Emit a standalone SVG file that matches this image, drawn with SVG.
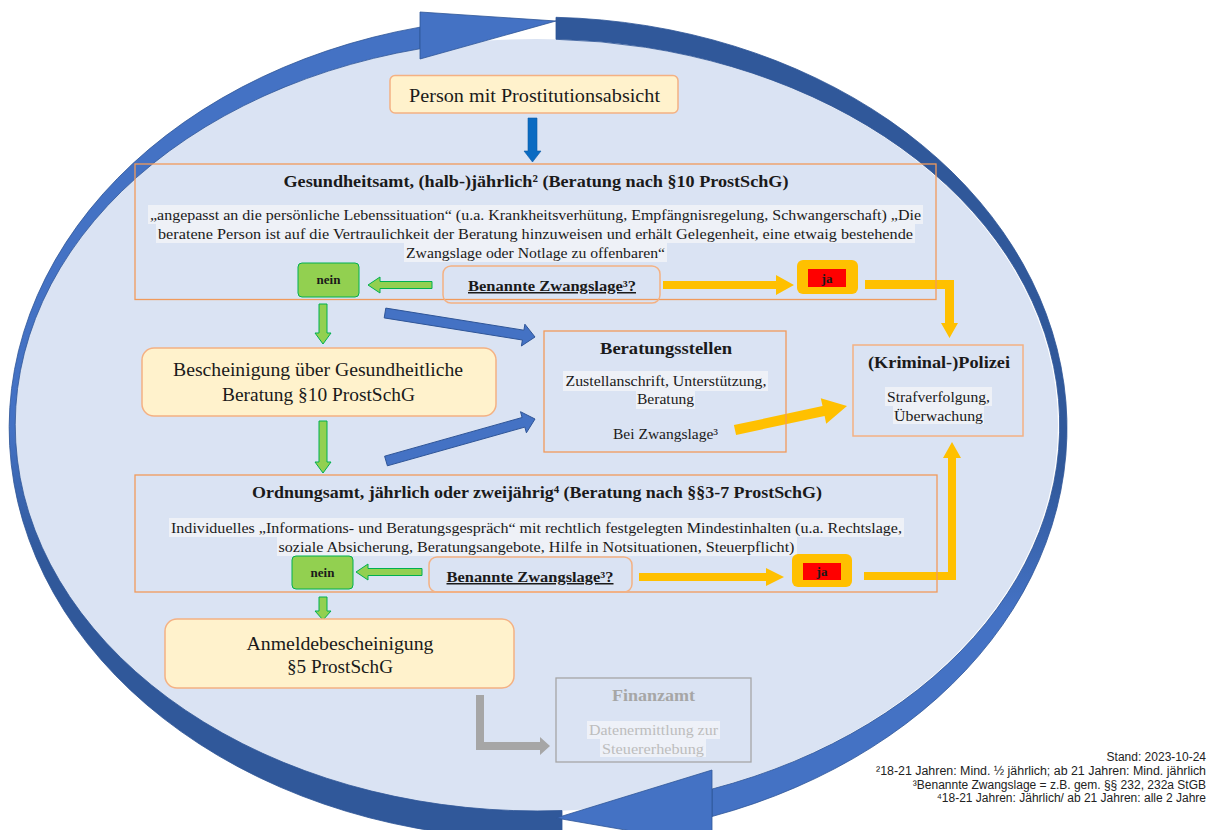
<svg xmlns="http://www.w3.org/2000/svg" width="1217" height="830" viewBox="0 0 1217 830">
<defs>
<linearGradient id="gL" gradientUnits="userSpaceOnUse" x1="0" y1="20" x2="0" y2="840">
<stop offset="0" stop-color="#4472C4"/><stop offset="0.5" stop-color="#4472C4"/><stop offset="0.66" stop-color="#30589A"/><stop offset="1" stop-color="#30589A"/>
</linearGradient>
<linearGradient id="gR" gradientUnits="userSpaceOnUse" x1="0" y1="20" x2="0" y2="840">
<stop offset="0" stop-color="#30589A"/><stop offset="0.55" stop-color="#30589A"/><stop offset="0.72" stop-color="#4472C4"/><stop offset="1" stop-color="#4472C4"/>
</linearGradient>
<style>
.s{font-family:"Liberation Serif","DejaVu Serif",serif;fill:#1a1a1a;text-anchor:middle}
.t{font-size:17px;font-weight:bold}
.b{font-size:15px}
.big{font-size:19px}
.hl{fill:#EEF1F7}
.frame{fill:none;stroke:#F19A5B;stroke-width:1.3}
.frame2{fill:none;stroke:#F4B183;stroke-width:1.5}
.pill{fill:#FFF2CC;stroke:#F4B183;stroke-width:1.5}
.yel{fill:#FFC000}
.grn{fill:#92D050;stroke:#00B050;stroke-width:1}
.blu{fill:#4472C4;stroke:#2F5597;stroke-width:1}
.foot{font-family:"Liberation Sans",Arial,sans-serif;font-size:12px;fill:#222;text-anchor:end}
</style>
</defs>
<rect width="1217" height="830" fill="#FFFFFF"/>

<g id="cycle">
<ellipse cx="536.5" cy="425" rx="521.5" ry="386" fill="#DAE3F3"/>
<path d="M562,838.5 A527.5,411 0 0 1 420,27.15 L420,48.75 A521.5,386 0 0 0 562,810.5 Z" fill="url(#gL)" stroke="#2F5597" stroke-width="0.8"/>
<polygon points="420,12 556,21 420,59" fill="#4472C4" stroke="#2F5597" stroke-width="0.8"/>
<path d="M556,17.3 A527.5,411 0 0 1 712,816.5 L712,789 A521.5,386 0 0 0 556,39.3 Z" fill="url(#gR)" stroke="#2F5597" stroke-width="0.8"/>
<polygon points="712,770 556,818 712,845" fill="#4472C4" stroke="#2F5597" stroke-width="0.8"/>
</g>

<g id="connectors">
<polygon points="528,118 537,118 537,151 541,151 532.5,162 524,151 528,151" fill="#0A6BC2" stroke="#0B5AA6" stroke-width="0.6"/>
<polygon class="grn" points="319,304 327,304 327,333 331,333 323,344 315,333 319,333"/>
<polygon class="grn" points="319,421 327,421 327,462 331,462 323,473 315,462 319,462"/>
<polygon class="grn" points="319,597 327,597 327,611 331,611 323,620 315,611 319,611"/>
<polygon class="grn" points="432,281.5 380,281.5 380,277 368,285 380,293 380,288.5 432,288.5"/>
<polygon class="grn" points="422,568.5 368,568.5 368,564 356,572 368,580 368,575.5 422,575.5"/>
<polygon class="yel" points="663,281 776,281 776,275 794,285 776,295 776,289 663,289"/>
<polygon class="yel" points="639,573 766,573 766,568 784,577 766,586 766,581 639,581"/>
<polygon class="yel" points="865,280 954,280 954,323 958,323 949.5,338 941,323 945,323 945,289 865,289"/>
<polygon class="yel" points="864,580 956,580 956,458 961,458 952,442 943,458 948,458 948,572 864,572"/>
<polygon class="yel" points="733.9,425.1 822.5,406.1 820.8,398.3 847,406 826.2,423.7 824.6,415.9 736.1,434.9"/>
<polygon class="blu" points="385.8,308.1 523.9,330.2 524.9,324.2 535,337 521.4,346 522.4,340 384.2,317.9"/>
<polygon class="blu" points="384.6,456.2 522.1,417.5 520.5,411.7 535,419 526.4,432.8 524.8,427.1 387.4,465.8"/>
<polygon points="476,695 484,695 484,742 540,742 540,737 550,746 540,755 540,750 476,750" fill="#A6A6A6"/>
</g>

<g id="person">
<rect class="pill" x="390" y="75.5" width="288" height="37.5" rx="5"/>
<text class="s big" x="534.5" y="102" textLength="251" lengthAdjust="spacingAndGlyphs">Person mit Prostitutionsabsicht</text>
</g>

<g id="gesundheitsamt">
<rect class="frame" x="135" y="164" width="801" height="135.5"/>
<text class="s t" x="536" y="187" textLength="505" lengthAdjust="spacingAndGlyphs">Gesundheitsamt, (halb-)jährlich² (Beratung nach §10 ProstSchG)</text>
<rect class="hl" x="148" y="205" width="775" height="19"/>
<rect class="hl" x="156" y="224" width="759" height="19"/>
<rect class="hl" x="404" y="243" width="263" height="19"/>
<text class="s b" x="535.5" y="220" textLength="771" lengthAdjust="spacingAndGlyphs">„angepasst an die persönliche Lebenssituation“ (u.a. Krankheitsverhütung, Empfängnisregelung, Schwangerschaft) „Die</text>
<text class="s b" x="535.5" y="239" textLength="755" lengthAdjust="spacingAndGlyphs">beratene Person ist auf die Vertraulichkeit der Beratung hinzuweisen und erhält Gelegenheit, eine etwaig bestehende</text>
<text class="s b" x="535.5" y="258" textLength="259" lengthAdjust="spacingAndGlyphs">Zwangslage oder Notlage zu offenbaren“</text>
</g>

<g id="nein1">
<rect class="grn" x="298" y="263" width="61" height="34" rx="4"/>
<text class="s" x="328.5" y="284" font-size="13" font-weight="bold">nein</text>
</g>

<g id="frage1">
<rect class="frame2" x="443" y="266" width="217" height="37" rx="8"/>
<text class="s" x="552" y="291" font-size="15" font-weight="bold" text-decoration="underline" textLength="168" lengthAdjust="spacingAndGlyphs">Benannte Zwangslage³?</text>
</g>

<g id="ja1">
<rect x="797" y="260" width="61" height="34" rx="6" fill="#FFC000"/>
<rect x="808" y="269" width="38" height="18" fill="#FF0000"/>
<text class="s" x="827" y="283" font-size="13" font-weight="bold">ja</text>
</g>

<g id="bescheinigung">
<rect class="pill" x="142" y="348" width="354" height="68" rx="12"/>
<text class="s big" x="318" y="376" textLength="290" lengthAdjust="spacingAndGlyphs">Bescheinigung über Gesundheitliche</text>
<text class="s big" x="318.5" y="401" textLength="193" lengthAdjust="spacingAndGlyphs">Beratung §10 ProstSchG</text>
</g>

<g id="beratungsstellen">
<rect class="frame" x="544" y="331" width="242" height="121"/>
<text class="s t" x="666" y="354" textLength="132" lengthAdjust="spacingAndGlyphs">Beratungsstellen</text>
<rect class="hl" x="563" y="371" width="205" height="20"/>
<rect class="hl" x="636" y="391" width="59" height="18"/>
<text class="s b" x="666" y="386" textLength="201" lengthAdjust="spacingAndGlyphs">Zustellanschrift, Unterstützung,</text>
<text class="s b" x="665.5" y="404" textLength="57" lengthAdjust="spacingAndGlyphs">Beratung</text>
<text class="s b" x="665.5" y="439" textLength="105" lengthAdjust="spacingAndGlyphs">Bei Zwangslage³</text>
</g>

<g id="polizei">
<rect class="frame2" x="853" y="345" width="170" height="91"/>
<text class="s t" x="939" y="368" textLength="142" lengthAdjust="spacingAndGlyphs">(Kriminal-)Polizei</text>
<rect class="hl" x="885" y="387" width="107" height="19"/>
<rect class="hl" x="893" y="406" width="91" height="18"/>
<text class="s b" x="938.5" y="402" textLength="103" lengthAdjust="spacingAndGlyphs">Strafverfolgung,</text>
<text class="s b" x="938.5" y="421" textLength="89" lengthAdjust="spacingAndGlyphs">Überwachung</text>
</g>

<g id="ordnungsamt">
<rect class="frame" x="135" y="475" width="802" height="117"/>
<text class="s t" x="537" y="498" textLength="570" lengthAdjust="spacingAndGlyphs">Ordnungsamt, jährlich oder zweijährig⁴ (Beratung nach §§3-7 ProstSchG)</text>
<rect class="hl" x="169" y="518" width="735" height="19"/>
<rect class="hl" x="277" y="537" width="520" height="19"/>
<text class="s b" x="536.5" y="533" textLength="731" lengthAdjust="spacingAndGlyphs">Individuelles „Informations- und Beratungsgespräch“ mit rechtlich festgelegten Mindestinhalten (u.a. Rechtslage,</text>
<text class="s b" x="536.5" y="552" textLength="516" lengthAdjust="spacingAndGlyphs">soziale Absicherung, Beratungsangebote, Hilfe in Notsituationen, Steuerpflicht)</text>
</g>

<g id="nein2">
<rect class="grn" x="292" y="556" width="61" height="33" rx="4"/>
<text class="s" x="322.5" y="577" font-size="13" font-weight="bold">nein</text>
</g>

<g id="frage2">
<rect class="frame2" x="429" y="557" width="203" height="35" rx="8"/>
<text class="s" x="530" y="582" font-size="15" font-weight="bold" text-decoration="underline" textLength="167" lengthAdjust="spacingAndGlyphs">Benannte Zwangslage³?</text>
</g>

<g id="ja2">
<rect x="792" y="554" width="60" height="33" rx="6" fill="#FFC000"/>
<rect x="803" y="563" width="38" height="17" fill="#FF0000"/>
<text class="s" x="822" y="576" font-size="13" font-weight="bold">ja</text>
</g>

<g id="anmeldebescheinigung">
<rect class="pill" x="165" y="619" width="349" height="69" rx="12"/>
<text class="s big" x="340" y="650" textLength="187" lengthAdjust="spacingAndGlyphs">Anmeldebescheinigung</text>
<text class="s big" x="340" y="673" textLength="106" lengthAdjust="spacingAndGlyphs">§5 ProstSchG</text>
</g>

<g id="finanzamt">
<rect x="556" y="678" width="195" height="84" fill="none" stroke="#A6A6A6" stroke-width="1.3"/>
<text class="s" x="653.5" y="701" font-size="16" font-weight="bold" style="fill:#A6A6A6" textLength="83" lengthAdjust="spacingAndGlyphs">Finanzamt</text>
<rect x="587" y="721" width="133" height="18" fill="#EEF1F8"/>
<rect x="600" y="739" width="106" height="18" fill="#EEF1F8"/>
<text class="s b" x="653.5" y="735" style="fill:#BDBDBD" textLength="129" lengthAdjust="spacingAndGlyphs">Datenermittlung zur</text>
<text class="s b" x="653" y="754" style="fill:#BDBDBD" textLength="102" lengthAdjust="spacingAndGlyphs">Steuererhebung</text>
</g>

<g id="fussnoten">
<text class="foot" x="1206" y="761">Stand: 2023-10-24</text>
<text class="foot" x="1206" y="775" textLength="330" lengthAdjust="spacingAndGlyphs">²18-21 Jahren: Mind. ½ jährlich; ab 21 Jahren: Mind. jährlich</text>
<text class="foot" x="1206" y="789">³Benannte Zwangslage = z.B. gem. §§ 232, 232a StGB</text>
<text class="foot" x="1206" y="802">⁴18-21 Jahren: Jährlich/ ab 21 Jahren: alle 2 Jahre</text>
</g>
</svg>
